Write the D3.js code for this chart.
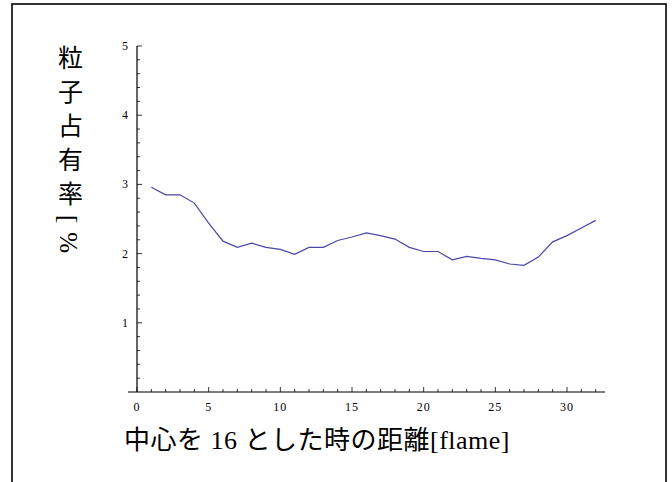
<!DOCTYPE html>
<html lang="ja">
<head>
<meta charset="UTF-8">
<script src="https://d3js.org/d3.v7.min.js"></script>
<style>
  body { margin: 0; background: #fff; }
</style>
</head>
<body>
<svg id="chart" width="672" height="482"></svg>
<script>
// 距離 (frame) と 粒子占有率 (%)
const distance = d3.range(1, 33);
const occupancy = [2.96, 2.85, 2.85, 2.73, 2.44, 2.18, 2.09, 2.15, 2.09, 2.06,
                   1.99, 2.09, 2.09, 2.19, 2.24, 2.30, 2.26, 2.21, 2.09, 2.03,
                   2.03, 1.91, 1.96, 1.93, 1.91, 1.85, 1.83, 1.95, 2.17, 2.26,
                   2.37, 2.48];
const xTicks = [0, 5, 10, 15, 20, 25, 30];
const yTicks = [1, 2, 3, 4, 5];

const serif = "'Liberation Serif', 'Noto Sans CJK JP', serif";
const svg = d3.select("#chart");

// 外枠
svg.append("rect")
  .attr("x", 12).attr("y", 4)
  .attr("width", 654).attr("height", 490)
  .attr("fill", "none").attr("stroke", "#000").attr("stroke-width", 1.6);

const x = d3.scaleLinear().domain([0, 30]).range([137, 567]);
const y = d3.scaleLinear().domain([0, 5]).range([392, 46]);

const data = distance.map((d, i) => ({ x: d, y: occupancy[i] }));

// x 軸
const gx = svg.append("g").attr("transform", "translate(0,392)");
gx.append("line").attr("x1", 128).attr("x2", 605).attr("stroke", "#000").attr("stroke-width", 1.2);
gx.selectAll(".minor").data(d3.range(0, 33)).join("line")
  .attr("x1", d => x(d)).attr("x2", d => x(d))
  .attr("y1", 0).attr("y2", d => d % 5 === 0 ? -5 : -3)
  .attr("stroke", "#000").attr("stroke-width", 0.8);
gx.selectAll("text").data(xTicks).join("text")
  .attr("x", d => x(d)).attr("y", 19)
  .attr("text-anchor", "middle")
  .style("font-family", serif).attr("font-size", 12)
  .attr("letter-spacing", 1)
  .text(d => d);

// y 軸
const gy = svg.append("g").attr("transform", `translate(${x(0)},0)`);
gy.append("line").attr("y1", 392).attr("y2", y(5)).attr("stroke", "#000").attr("stroke-width", 1.2);
gy.selectAll(".minor").data(d3.range(0, 25).map(i => i * 0.2 + 0.2)).join("line")
  .attr("y1", d => y(d)).attr("y2", d => y(d))
  .attr("x1", 0).attr("x2", d => Math.abs(d - Math.round(d)) < 1e-6 ? 5 : 3)
  .attr("stroke", "#000").attr("stroke-width", 0.8);
gy.selectAll("text").data(yTicks).join("text")
  .attr("x", -9).attr("y", d => y(d) + 4)
  .attr("text-anchor", "end")
  .style("font-family", serif).attr("font-size", 12)
  .text(d => d);

// 折れ線
svg.append("path")
  .datum(data)
  .attr("fill", "none")
  .attr("stroke", "#4848a8")
  .attr("stroke-width", 1.2)
  .attr("d", d3.line().x(d => x(d.x)).y(d => y(d.y)));

// 軸ラベル
svg.append("text")
  .attr("x", 124).attr("y", 449)
  .style("font-family", serif)
  .attr("font-size", 26)
  .attr("letter-spacing", 0.5)
  .text("中心を 16 とした時の距離[flame]");

svg.append("text")
  .attr("x", 68).attr("y", 45)
  .attr("writing-mode", "tb")
  .style("writing-mode", "vertical-rl")
  .style("font-family", serif)
  .attr("font-size", 25)
  .attr("letter-spacing", 9)
  .text("粒子占有率[%");
</script>
</body>
</html>
